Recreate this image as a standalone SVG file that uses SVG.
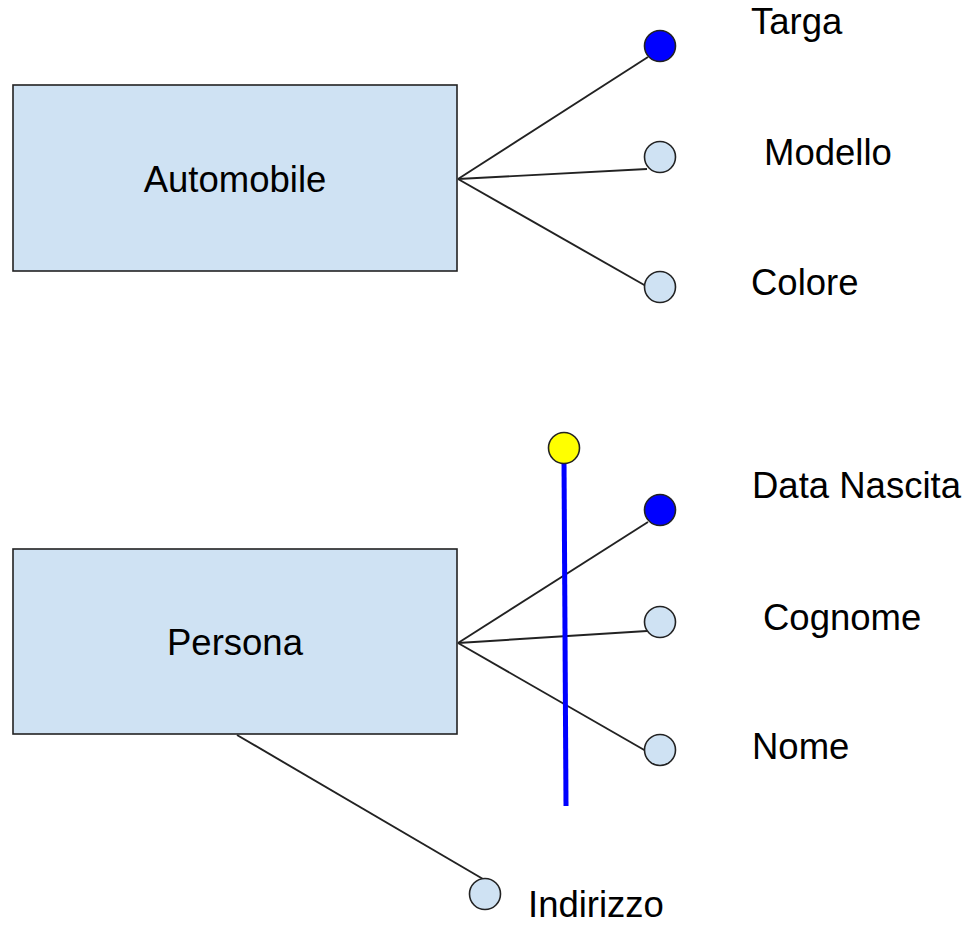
<svg xmlns="http://www.w3.org/2000/svg" width="969" height="925" viewBox="0 0 969 925">
<style>
.ent{fill:#cfe2f3;stroke:#222;stroke-width:1.6}
.att{fill:#cfe2f3;stroke:#222;stroke-width:1.6}
.key{fill:#0000ff;stroke:#222;stroke-width:1.6}
.ext{fill:#ffff00;stroke:#222;stroke-width:1.6}
.ln{stroke:#222;stroke-width:1.9;fill:none}
text{font-family:"Liberation Sans",Arial,sans-serif;font-size:36.5px;fill:#000}
</style>
<rect width="969" height="925" fill="#fff"/>
<g id="connectors">
<line class="ln" x1="458" y1="179" x2="648" y2="57"/>
<line class="ln" x1="458" y1="179" x2="647" y2="169"/>
<line class="ln" x1="458" y1="179" x2="646" y2="286"/>
<line class="ln" x1="458" y1="643" x2="648" y2="522"/>
<line class="ln" x1="458" y1="643" x2="647" y2="631"/>
<line class="ln" x1="458" y1="643" x2="646" y2="751"/>
<line class="ln" x1="237" y1="735" x2="483" y2="879"/>
<line x1="564" y1="460" x2="566" y2="806" stroke="#0000ff" stroke-width="5"/>
</g>
<g id="automobile"><rect class="ent" x="13" y="85" width="444" height="186"/><text x="235" y="192" text-anchor="middle">Automobile</text></g>
<g id="persona"><rect class="ent" x="13" y="549" width="444" height="185"/><text x="235" y="655" text-anchor="middle">Persona</text></g>
<g id="targa"><circle class="key" cx="660" cy="46" r="15.5"/><text x="751" y="34">Targa</text></g>
<g id="modello"><circle class="att" cx="660" cy="157" r="15.5"/><text x="764" y="165">Modello</text></g>
<g id="colore"><circle class="att" cx="660" cy="287" r="15.5"/><text x="751" y="295">Colore</text></g>
<g id="identificatore"><circle class="ext" cx="564" cy="448" r="15.5"/></g>
<g id="datanascita"><circle class="key" cx="660" cy="510" r="15.5"/><text x="752" y="498">Data Nascita</text></g>
<g id="cognome"><circle class="att" cx="660" cy="622" r="15.5"/><text x="763" y="630">Cognome</text></g>
<g id="nome"><circle class="att" cx="660" cy="750" r="15.5"/><text x="752" y="759">Nome</text></g>
<g id="indirizzo"><circle class="att" cx="485" cy="894" r="15.5"/><text x="528" y="917">Indirizzo</text></g>
</svg>
